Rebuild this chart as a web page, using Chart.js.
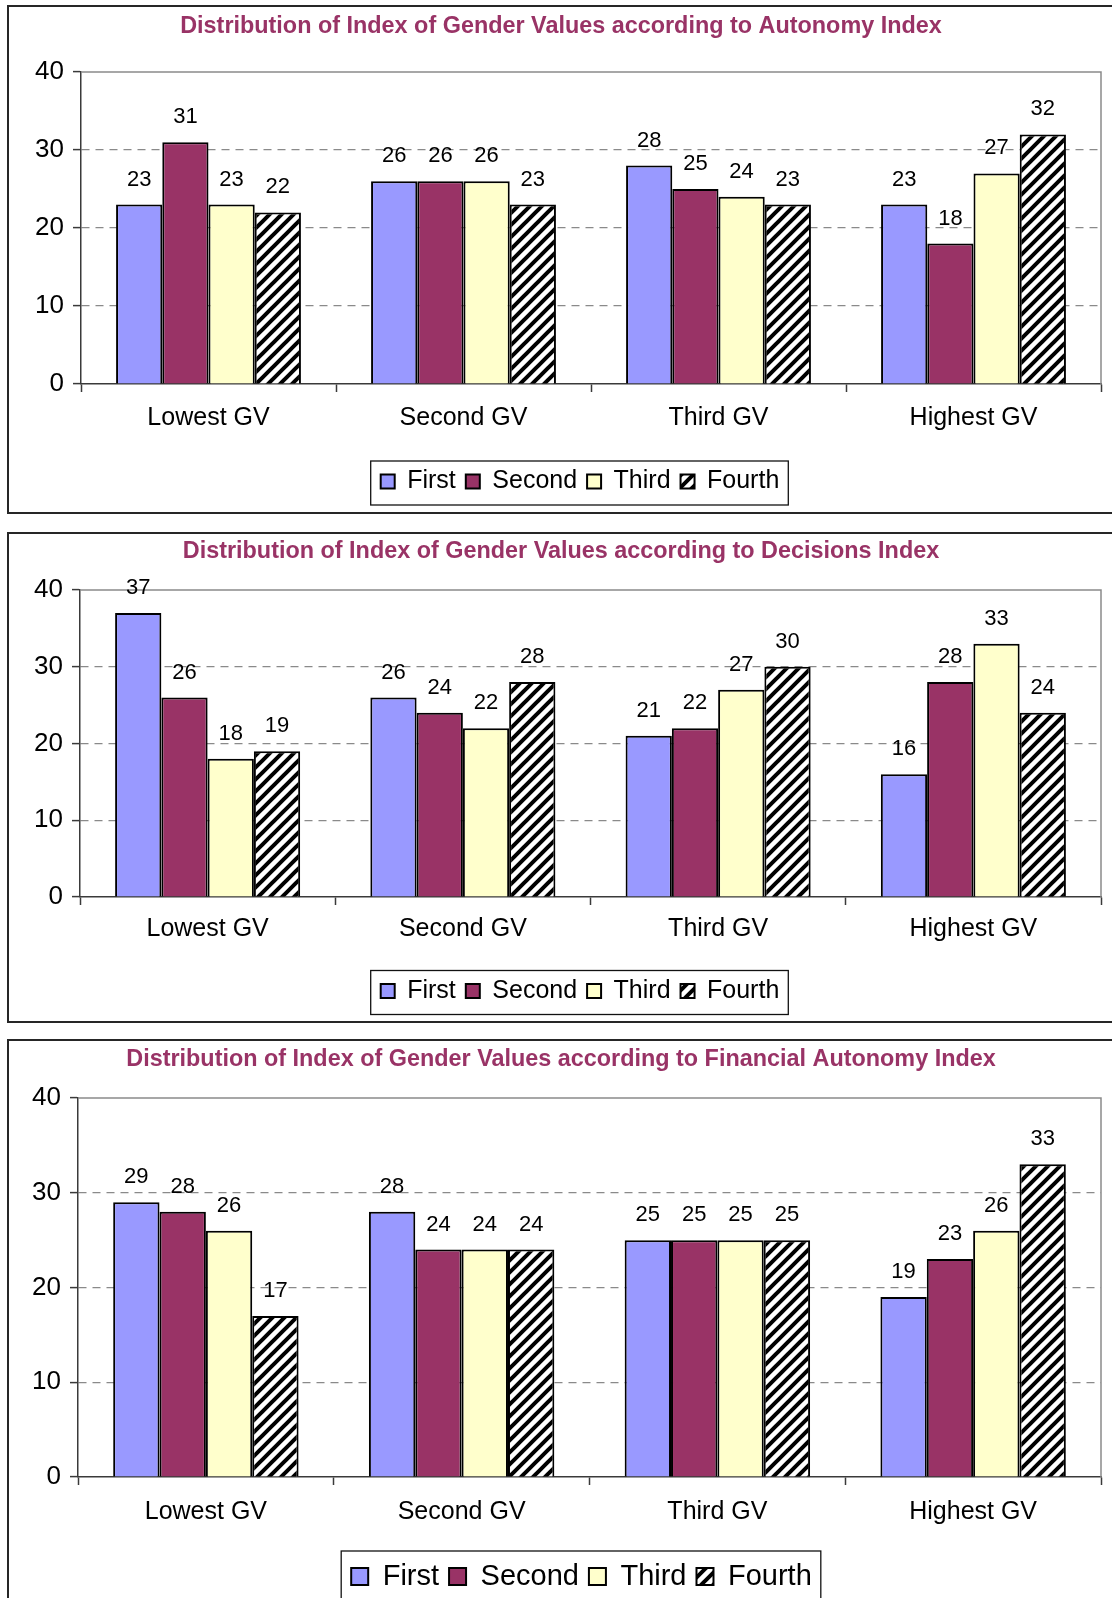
<!DOCTYPE html>
<html>
<head>
<meta charset="utf-8">
<script src="https://cdn.jsdelivr.net/npm/chart.js@4.4.1/dist/chart.umd.min.js"></script>
<style>
  html, body { margin: 0; padding: 0; background: #fff; overflow: hidden; width: 1112px; height: 1598px; }
  .box { position: absolute; left: 7px; width: 1140px; border: 2px solid #262626; box-sizing: border-box; }
  .box canvas { position: absolute; left: 0; top: 0; }
</style>
</head>
<body>
<div class="box" style="top:5px;height:509px"><canvas id="c1" width="1102" height="505"></canvas></div>
<div class="box" style="top:532px;height:491px"><canvas id="c2" width="1102" height="487"></canvas></div>
<div class="box" style="top:1039px;height:640px"><canvas id="c3" width="1102" height="600"></canvas></div>
<script>
// Shared categories, series and axis ticks
const categories = ['Lowest GV', 'Second GV', 'Third GV', 'Highest GV'];
const seriesNames = ['First', 'Second', 'Third', 'Fourth'];
const yTicks = [0, 10, 20, 30, 40];

// Autonomy Index
const autonomyTitle = 'Distribution of Index of Gender Values according to Autonomy Index';
const autonomyFirst  = [23, 26, 28, 23];
const autonomySecond = [31, 26, 25, 18];
const autonomyThird  = [23, 26, 24, 27];
const autonomyFourth = [22, 23, 23, 32];

// Decisions Index
const decisionsTitle = 'Distribution of Index of Gender Values according to Decisions Index';
const decisionsFirst  = [37, 26, 21, 16];
const decisionsSecond = [26, 24, 22, 28];
const decisionsThird  = [18, 22, 27, 33];
const decisionsFourth = [19, 28, 30, 24];

// Financial Autonomy Index
const financialTitle = 'Distribution of Index of Gender Values according to Financial Autonomy Index';
const financialFirst  = [29, 28, 25, 19];
const financialSecond = [28, 24, 25, 23];
const financialThird  = [26, 24, 25, 26];
const financialFourth = [17, 24, 25, 33];

Chart.defaults.font.family = "'Liberation Sans', Arial, Helvetica, sans-serif";
Chart.defaults.color = '#000';

const AXIS = '#3a3a3a';
const TITLE_COLOR = '#993366';
const fills = ['#9999FF', '#993366', '#FFFFCC'];

function hatchPattern(ctx) {
  const s = 12;
  const c = document.createElement('canvas');
  c.width = s; c.height = s;
  const g = c.getContext('2d');
  g.fillStyle = '#fff';
  g.fillRect(0, 0, s, s);
  g.strokeStyle = '#000';
  g.lineWidth = 4;
  g.beginPath();
  g.moveTo(-1, s + 1); g.lineTo(s + 1, -1);
  g.moveTo(-s / 2 - 1, s / 2 + 1); g.lineTo(s / 2 + 1, -s / 2 - 1);
  g.moveTo(s / 2 - 1, s * 1.5 + 1); g.lineTo(s * 1.5 + 1, s / 2 - 1);
  g.stroke();
  return ctx.createPattern(c, 'repeat');
}

// Solid grey frame along the top and right of the plot area
const plotFrame = {
  id: 'plotFrame',
  beforeDatasetsDraw(chart) {
    const { ctx, chartArea: a } = chart;
    ctx.save();
    ctx.strokeStyle = '#8a8a8a';
    ctx.lineWidth = 1.5;
    ctx.beginPath();
    ctx.moveTo(a.left, a.top);
    ctx.lineTo(a.right, a.top);
    ctx.lineTo(a.right, a.bottom);
    ctx.stroke();
    ctx.restore();
  }
};

// Rounded value printed above each bar
const valueLabels = {
  id: 'valueLabels',
  afterDatasetsDraw(chart, args, opts) {
    const ctx = chart.ctx;
    ctx.save();
    ctx.font = opts.size + "px 'Liberation Sans', Arial, sans-serif";
    ctx.fillStyle = '#000';
    ctx.textAlign = 'center';
    ctx.textBaseline = 'middle';
    chart.data.datasets.forEach((ds, i) => {
      chart.getDatasetMeta(i).data.forEach((bar, j) => {
        ctx.fillText(String(Math.round(ds.data[j])), bar.x, bar.y - opts.gap);
      });
    });
    ctx.restore();
  }
};

// Moves the legend row to its place and outlines it with a thin box
const legendFrame = {
  id: 'legendFrame',
  afterLayout(chart, args, opts) {
    const lg = chart.legend;
    const d = opts.centerX - (lg.left + lg.right) / 2;
    lg.left += d;
    lg.right += d;
  },
  afterDraw(chart, args, opts) {
    const hb = chart.legend.legendHitBoxes;
    if (!hb || !hb.length) return;
    const l = Math.min(...hb.map(h => h.left)) - opts.padL;
    const r = Math.max(...hb.map(h => h.left + h.width)) + opts.padR;
    const mid = hb[0].top + hb[0].height / 2;
    const ctx = chart.ctx;
    ctx.save();
    ctx.strokeStyle = '#111';
    ctx.lineWidth = 1.3;
    ctx.strokeRect(l, mid - opts.up, r - l, opts.up + opts.down);
    ctx.restore();
  }
};

function makeChart(id, title, series, g) {
  const canvas = document.getElementById(id);
  const ctx = canvas.getContext('2d');
  const W = canvas.width, H = canvas.height;
  const padLeft = 12;
  const titleLH = g.titleSize * 1.2;
  const itemH = g.legendSize;
  const legendPad = 10;
  const legendTop = g.legendMid - legendPad - itemH / 2;
  const legendH = itemH + legendPad + 10;
  const labelLH = g.catSize * 1.2;

  const datasets = series.map((vals, i) => ({
    label: seriesNames[i],
    data: vals,
    backgroundColor: i < 3 ? fills[i] : hatchPattern(ctx),
    borderColor: '#000',
    borderWidth: 2
  }));

  return new Chart(ctx, {
    type: 'bar',
    data: { labels: categories, datasets },
    plugins: [plotFrame, valueLabels, legendFrame],
    options: {
      responsive: false,
      animation: false,
      events: [],
      layout: { padding: { top: 0, left: padLeft, right: W - g.right, bottom: H - legendTop - legendH } },
      datasets: { bar: { categoryPercentage: 0.725, barPercentage: 1.0 } },
      scales: {
        x: {
          grid: { offset: true, drawOnChartArea: false, drawTicks: true, tickLength: 8, tickColor: AXIS, tickWidth: 1.5 },
          border: { color: AXIS, width: 1.5 },
          ticks: { font: { size: g.catSize }, color: '#000', padding: g.catMid - g.bottom - 8 - labelLH / 2, maxRotation: 0, autoSkip: false },
          afterFit: s => { s.height = legendTop - g.bottom; }
        },
        y: {
          min: 0,
          max: 40,
          afterBuildTicks: s => { s.ticks = yTicks.map(v => ({ value: v })); },
          grid: {
            color: c => (c.tick && (c.tick.value === 0 || c.tick.value === 40)) ? 'rgba(0,0,0,0)' : '#8a8a8a',
            lineWidth: 1.2,
            tickLength: 8,
            tickColor: AXIS,
            tickWidth: 1.5
          },
          border: { color: AXIS, width: 1.5, dash: [8, 6] },
          ticks: { font: { size: 26 }, color: '#000', padding: 9 },
          afterFit: s => { s.width = g.left - padLeft; }
        }
      },
      plugins: {
        title: {
          display: true,
          text: title,
          color: TITLE_COLOR,
          font: { size: g.titleSize, weight: 'bold' },
          padding: { top: g.titleMid - titleLH / 2, bottom: g.top - g.titleMid - titleLH / 2 }
        },
        legend: {
          position: 'bottom',
          labels: { boxWidth: g.legendBox, boxHeight: g.legendBox, font: { size: g.legendSize }, color: '#000', padding: legendPad }
        },
        tooltip: { enabled: false },
        valueLabels: { size: 22, gap: 25 },
        legendFrame: { centerX: g.legendCenter, padL: 10, padR: 9, up: g.legendUp, down: g.legendDown }
      }
    }
  });
}

makeChart('c1', autonomyTitle, [autonomyFirst, autonomySecond, autonomyThird, autonomyFourth], {
  titleSize: 23.4, titleMid: 20, top: 65, bottom: 377, left: 72, right: 1092,
  catSize: 25, catMid: 411, legendSize: 25, legendBox: 14, legendMid: 474.5,
  legendCenter: 571, legendUp: 20.5, legendDown: 23.5
});

makeChart('c2', decisionsTitle, [decisionsFirst, decisionsSecond, decisionsThird, decisionsFourth], {
  titleSize: 23.4, titleMid: 17.5, top: 56, bottom: 363, left: 71, right: 1092,
  catSize: 25, catMid: 395.5, legendSize: 25, legendBox: 14, legendMid: 457,
  legendCenter: 571, legendUp: 20.5, legendDown: 23.5
});

makeChart('c3', financialTitle, [financialFirst, financialSecond, financialThird, financialFourth], {
  titleSize: 23.4, titleMid: 19, top: 57, bottom: 436, left: 69, right: 1092,
  catSize: 25, catMid: 471, legendSize: 29, legendBox: 17, legendMid: 535.5,
  legendCenter: 572.5, legendUp: 25.5, legendDown: 30
});
</script>
</body>
</html>
